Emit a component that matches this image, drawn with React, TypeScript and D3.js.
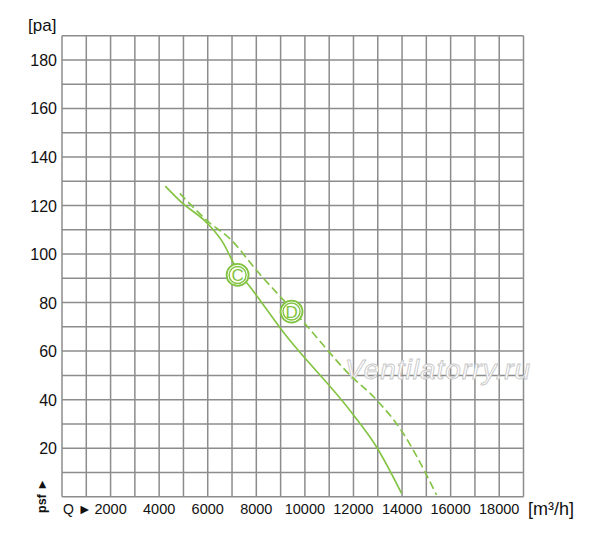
import React, { useEffect, useRef } from 'react';
import * as d3 from 'd3';

// air flow [m3/h] and static pressure [pa]
const curveCQ = [4250, 4900, 6050, 6640, 7000, 7300, 7700, 9100, 12000, 12950, 13980];
const curveCP = [128, 121.5, 112, 104.5, 97.5, 92, 87, 68, 33.7, 20.5, 1.4];
const curveDQ = [4850, 6100, 6900, 8000, 9930, 11850, 12950, 14050, 14940, 15420];
const curveDP = [125, 112.7, 106.5, 93.4, 72.1, 50.2, 39.9, 26.1, 10.3, 0.7];

const xTicks = [2000, 4000, 6000, 8000, 10000, 12000, 14000, 16000, 18000];
const yTicks = [20, 40, 60, 80, 100, 120, 140, 160, 180];

const curveLabels = ['C', 'D'];
const labelQ = [7230, 9450];
const labelP = [91.4, 76.3];

const App: React.FC = () => {
  const svgRef = useRef<SVGSVGElement>(null);

  useEffect(() => {
    const width = 600;
    const height = 537;
    const green = '#82c341';
    const font = '"Liberation Sans", Arial, Helvetica, sans-serif';

    const svg = d3.select(svgRef.current)
      .attr('width', width)
      .attr('height', height);
    svg.selectAll('*').remove();

    const x = d3.scaleLinear().domain([0, 19000]).range([62, 523.5]);
    const y = d3.scaleLinear().domain([0, 190]).range([496.7, 35.7]);

    // grid
    const grid = svg.append('g');
    grid.selectAll('line.v')
      .data(d3.range(0, 19001, 1000))
      .enter()
      .append('line')
      .attr('x1', d => x(d))
      .attr('x2', d => x(d))
      .attr('y1', y(0))
      .attr('y2', y(190))
      .attr('stroke', '#8c8c8c')
      .attr('stroke-width', 1.5);
    grid.selectAll('line.h')
      .data(d3.range(0, 191, 10))
      .enter()
      .append('line')
      .attr('x1', x(0))
      .attr('x2', x(19000))
      .attr('y1', d => y(d))
      .attr('y2', d => y(d))
      .attr('stroke', '#8c8c8c')
      .attr('stroke-width', 1.5);

    // tick labels
    svg.append('g')
      .selectAll('text')
      .data(yTicks)
      .enter()
      .append('text')
      .attr('x', 57)
      .attr('y', d => y(d) + 6)
      .attr('text-anchor', 'end')
      .attr('font-family', font)
      .attr('font-size', 16)
      .attr('fill', '#111')
      .text(d => d);

    svg.append('g')
      .selectAll('text')
      .data(xTicks)
      .enter()
      .append('text')
      .attr('x', d => x(d))
      .attr('y', 514)
      .attr('text-anchor', 'middle')
      .attr('font-family', font)
      .attr('font-size', 14.5)
      .attr('fill', '#111')
      .text(d => d);

    svg.append('text')
      .attr('x', 28)
      .attr('y', 31)
      .attr('font-family', font)
      .attr('font-size', 17)
      .attr('fill', '#111')
      .text('[pa]');

    svg.append('text')
      .attr('x', 528)
      .attr('y', 515)
      .attr('font-family', font)
      .attr('font-size', 18)
      .attr('fill', '#111')
      .text('[m³/h]');

    svg.append('text')
      .attr('x', 63)
      .attr('y', 514)
      .attr('font-family', font)
      .attr('font-size', 14)
      .attr('fill', '#111')
      .text('Q ►');

    svg.append('text')
      .attr('transform', 'translate(46,513) rotate(-90)')
      .attr('font-family', font)
      .attr('font-size', 12.5)
      .attr('font-weight', 'bold')
      .attr('fill', '#111')
      .text('psf ►');

    // watermark
    svg.append('text')
      .attr('x', 345)
      .attr('y', 379)
      .attr('font-family', font)
      .attr('font-size', 28)
      .attr('font-style', 'italic')
      .attr('letter-spacing', 1)
      .attr('fill', '#fff')
      .attr('stroke', '#c8c8c8')
      .attr('stroke-width', 0.9)
      .text('Ventilatorry.ru');

    // curves
    const line = d3.line<[number, number]>()
      .x(d => x(d[0]))
      .y(d => y(d[1]))
      .curve(d3.curveMonotoneX);

    svg.append('path')
      .attr('d', line(curveCQ.map((q, i) => [q, curveCP[i]] as [number, number])))
      .attr('fill', 'none')
      .attr('stroke', green)
      .attr('stroke-width', 1.6);

    svg.append('path')
      .attr('d', line(curveDQ.map((q, i) => [q, curveDP[i]] as [number, number])))
      .attr('fill', 'none')
      .attr('stroke', green)
      .attr('stroke-width', 1.6)
      .attr('stroke-dasharray', '8,4');

    // curve labels
    const lab = svg.append('g')
      .selectAll('g')
      .data(curveLabels)
      .enter()
      .append('g')
      .attr('transform', (d, i) => `translate(${x(labelQ[i])},${y(labelP[i])})`);
    lab.append('circle')
      .attr('r', 11)
      .attr('fill', '#fff')
      .attr('stroke', green)
      .attr('stroke-width', 1.8);
    lab.append('circle')
      .attr('r', 8.5)
      .attr('fill', 'none')
      .attr('stroke', green)
      .attr('stroke-width', 1.4);
    lab.append('text')
      .attr('y', 6)
      .attr('text-anchor', 'middle')
      .attr('font-family', font)
      .attr('font-size', 17)
      .attr('fill', green)
      .text(d => d);
  }, []);

  return <svg ref={svgRef} style={{ position: 'absolute', left: 0, top: 0 }}></svg>;
};

export default App;
